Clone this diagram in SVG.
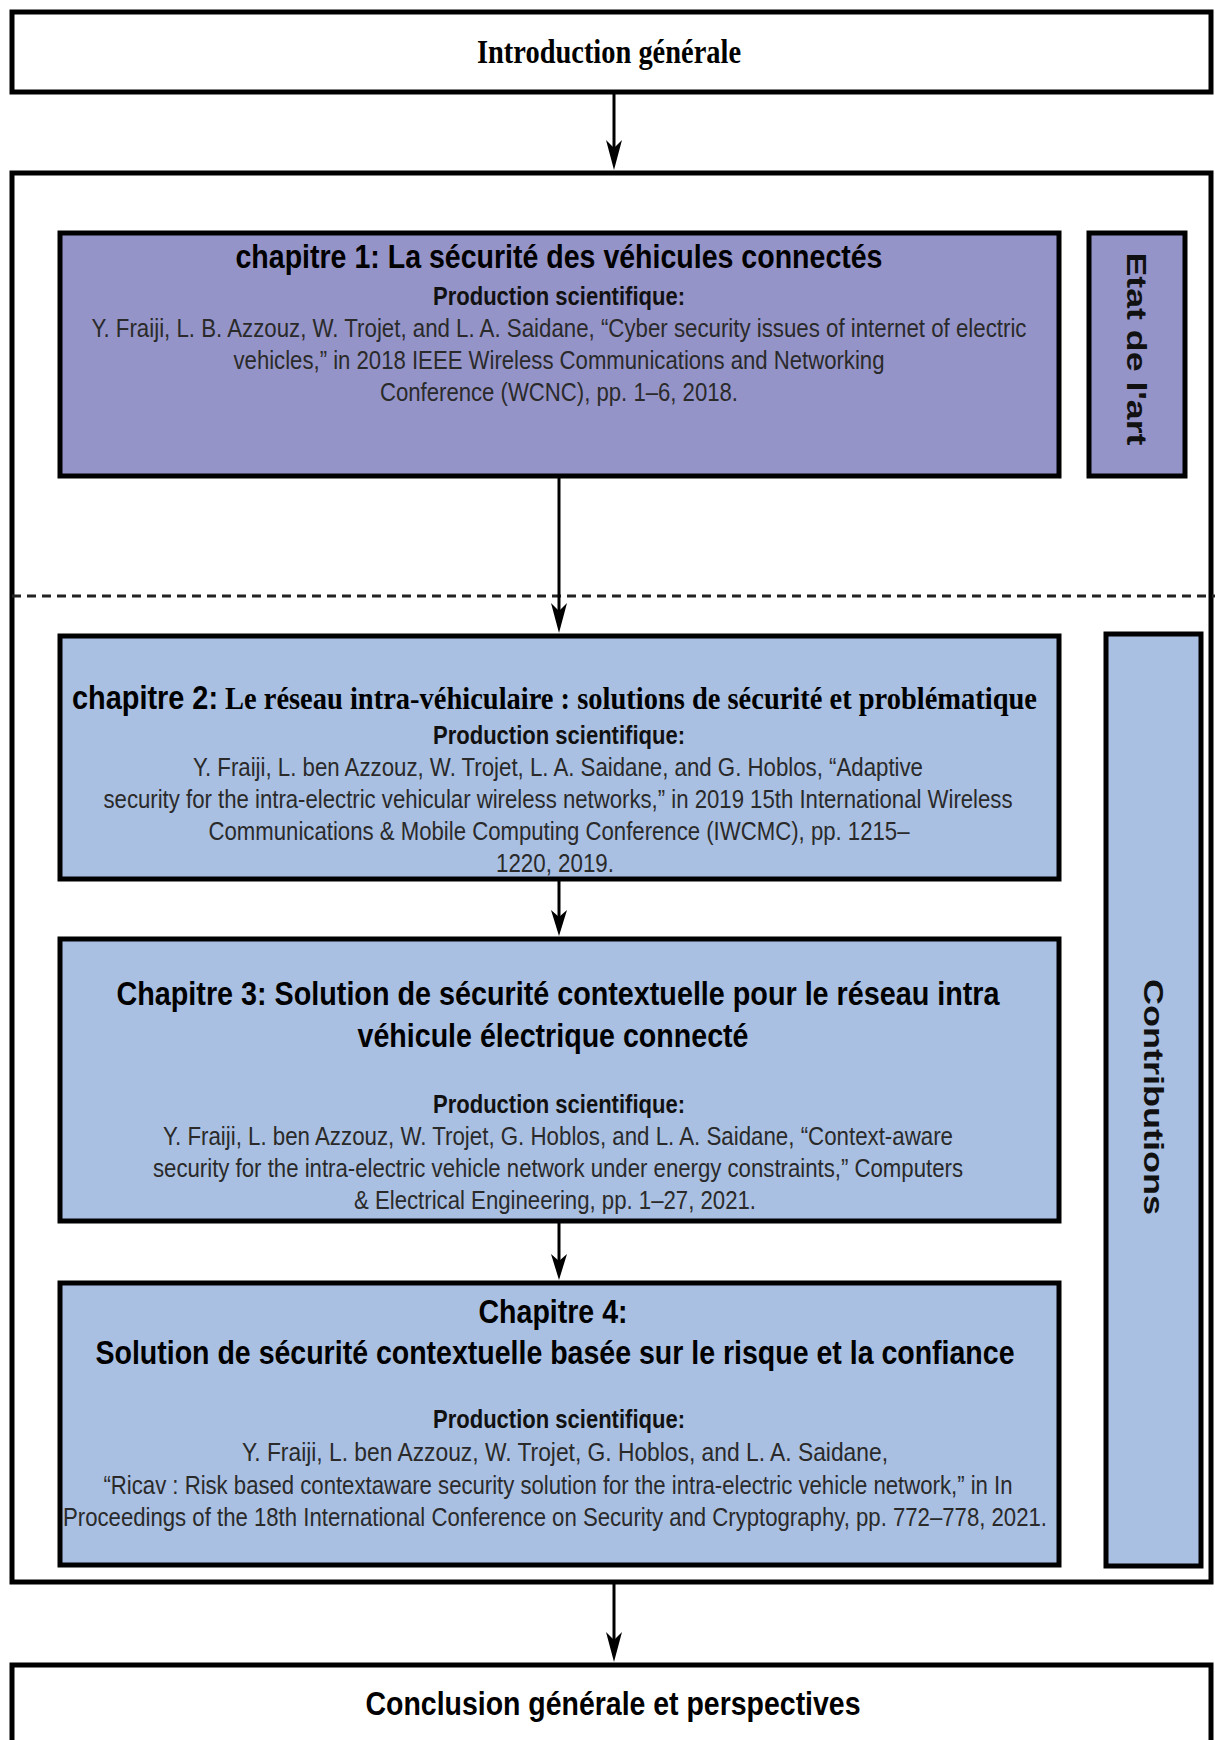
<svg xmlns="http://www.w3.org/2000/svg" width="1215" height="1740" viewBox="0 0 1215 1740">
<style>
.box{stroke:#000;stroke-width:5;}
.white{fill:#fff;}
.purple{fill:#9594C8;}
.blue{fill:#A9C0E3;}
.serif{font-family:"Liberation Serif","Times New Roman",serif;font-weight:bold;fill:#000;}
.title{font-family:"Liberation Sans",Arial,sans-serif;font-weight:bold;font-size:33px;fill:#000;}
.prod{font-family:"Liberation Sans",Arial,sans-serif;font-weight:bold;font-size:25px;fill:#111;}
.cite{font-family:"Liberation Sans",Arial,sans-serif;font-size:25px;fill:#2a2a2a;}
.side{font-family:"Liberation Sans",Arial,sans-serif;font-weight:bold;font-size:28px;fill:#111;}
.link{stroke:#000;stroke-width:3;fill:none;}
</style>
<rect width="1215" height="1740" fill="#fff"/>

<g id="container">
<rect class="box white" x="12" y="173" width="1199" height="1409"/>
</g>

<g id="intro">
<rect class="box white" x="12" y="12" width="1199" height="80"/>
<text class="serif" x="609" y="63" font-size="34" text-anchor="middle" textLength="264" lengthAdjust="spacingAndGlyphs">Introduction générale</text>
</g>

<g id="chapitre1">
<rect class="box purple" x="60" y="233" width="999" height="243"/>
<text class="title" x="559" y="268" text-anchor="middle" textLength="647" lengthAdjust="spacingAndGlyphs">chapitre 1: La sécurité des véhicules connectés</text>
<text class="prod" x="559" y="305" text-anchor="middle" textLength="252" lengthAdjust="spacingAndGlyphs">Production scientifique:</text>
<text class="cite" x="559" y="337" text-anchor="middle" textLength="935" lengthAdjust="spacingAndGlyphs">Y. Fraiji, L. B. Azzouz, W. Trojet, and L. A. Saidane, “Cyber security issues of internet of electric</text>
<text class="cite" x="559" y="369" text-anchor="middle" textLength="651" lengthAdjust="spacingAndGlyphs">vehicles,” in 2018 IEEE Wireless Communications and Networking</text>
<text class="cite" x="559" y="401" text-anchor="middle" textLength="358" lengthAdjust="spacingAndGlyphs">Conference (WCNC), pp. 1–6, 2018.</text>
</g>

<g id="etat-de-l-art">
<rect class="box purple" x="1089" y="233" width="96" height="243"/>
<text class="side" transform="translate(1136,349) rotate(90)" x="0" y="0" text-anchor="middle" dominant-baseline="central" textLength="193" lengthAdjust="spacingAndGlyphs">Etat de l'art</text>
</g>

<g id="separator">
<line x1="12" y1="596" x2="1215" y2="596" stroke="#222" stroke-width="3" stroke-dasharray="9,6"/>
</g>

<g id="chapitre2">
<rect class="box blue" x="60" y="636" width="999" height="243"/>
<text x="72" y="709"><tspan class="title" x="72" textLength="146" lengthAdjust="spacingAndGlyphs">chapitre 2:</tspan><tspan class="serif" font-size="32" x="225" textLength="812" lengthAdjust="spacingAndGlyphs">Le réseau intra-véhiculaire : solutions de sécurité et problématique</tspan></text>
<text class="prod" x="559" y="744" text-anchor="middle" textLength="252" lengthAdjust="spacingAndGlyphs">Production scientifique:</text>
<text class="cite" x="558" y="776" text-anchor="middle" textLength="730" lengthAdjust="spacingAndGlyphs">Y. Fraiji, L. ben Azzouz, W. Trojet, L. A. Saidane, and G. Hoblos, “Adaptive</text>
<text class="cite" x="558" y="808" text-anchor="middle" textLength="909" lengthAdjust="spacingAndGlyphs">security for the intra-electric vehicular wireless networks,” in 2019 15th International Wireless</text>
<text class="cite" x="559" y="840" text-anchor="middle" textLength="701" lengthAdjust="spacingAndGlyphs">Communications &amp; Mobile Computing Conference (IWCMC), pp. 1215–</text>
<text class="cite" x="555" y="872" text-anchor="middle" textLength="118" lengthAdjust="spacingAndGlyphs">1220, 2019.</text>
</g>

<g id="chapitre3">
<rect class="box blue" x="60" y="939" width="999" height="282"/>
<text class="title" x="558" y="1005" text-anchor="middle" textLength="883" lengthAdjust="spacingAndGlyphs">Chapitre 3:  Solution de sécurité contextuelle pour le réseau intra</text>
<text class="title" x="553" y="1047" text-anchor="middle" textLength="391" lengthAdjust="spacingAndGlyphs">véhicule électrique connecté</text>
<text class="prod" x="559" y="1113" text-anchor="middle" textLength="252" lengthAdjust="spacingAndGlyphs">Production scientifique:</text>
<text class="cite" x="558" y="1145" text-anchor="middle" textLength="790" lengthAdjust="spacingAndGlyphs">Y. Fraiji, L. ben Azzouz, W. Trojet, G. Hoblos, and L. A. Saidane, “Context-aware</text>
<text class="cite" x="558" y="1177" text-anchor="middle" textLength="810" lengthAdjust="spacingAndGlyphs">security for the intra-electric vehicle network under energy constraints,” Computers</text>
<text class="cite" x="555" y="1209" text-anchor="middle" textLength="402" lengthAdjust="spacingAndGlyphs">&amp; Electrical Engineering, pp. 1–27, 2021.</text>
</g>

<g id="chapitre4">
<rect class="box blue" x="60" y="1283" width="999" height="282"/>
<text class="title" x="553" y="1323" text-anchor="middle" textLength="149" lengthAdjust="spacingAndGlyphs">Chapitre 4:</text>
<text class="title" x="555" y="1364" text-anchor="middle" textLength="919" lengthAdjust="spacingAndGlyphs">Solution de sécurité contextuelle basée sur le risque et la confiance</text>
<text class="prod" x="559" y="1428" text-anchor="middle" textLength="252" lengthAdjust="spacingAndGlyphs">Production scientifique:</text>
<text class="cite" x="565" y="1461" text-anchor="middle" textLength="646" lengthAdjust="spacingAndGlyphs">Y. Fraiji, L. ben Azzouz, W. Trojet, G. Hoblos, and L. A. Saidane,</text>
<text class="cite" x="558" y="1494" text-anchor="middle" textLength="909" lengthAdjust="spacingAndGlyphs">“Ricav : Risk based contextaware security solution for the intra-electric vehicle network,” in In</text>
<text class="cite" x="555" y="1526" text-anchor="middle" textLength="984" lengthAdjust="spacingAndGlyphs">Proceedings of the 18th International Conference on Security and Cryptography, pp. 772–778, 2021.</text>
</g>

<g id="contributions">
<rect class="box blue" x="1106" y="634" width="95" height="932"/>
<text class="side" transform="translate(1153,1097) rotate(90)" x="0" y="0" text-anchor="middle" dominant-baseline="central" textLength="236" lengthAdjust="spacingAndGlyphs">Contributions</text>
</g>

<g id="conclusion">
<rect class="box white" x="12" y="1665" width="1199" height="90"/>
<text class="title" x="613" y="1715" text-anchor="middle" font-size="35" textLength="495" lengthAdjust="spacingAndGlyphs">Conclusion générale et perspectives</text>
</g>

<g id="connectors">
<line class="link" x1="614" y1="94" x2="614" y2="150"/>
<line class="link" x1="559" y1="478" x2="559" y2="612"/>
<line class="link" x1="559" y1="881" x2="559" y2="918"/>
<line class="link" x1="559" y1="1223" x2="559" y2="1262"/>
<line class="link" x1="614" y1="1584" x2="614" y2="1642"/>
<path d="M606,140 L614,170 L622,140 L614,148 Z" fill="#000"/>
<path d="M551,603 L559,633 L567,603 L559,611 Z" fill="#000"/>
<path d="M551,910 L559,936 L567,910 L559,917 Z" fill="#000"/>
<path d="M551,1254 L559,1280 L567,1254 L559,1261 Z" fill="#000"/>
<path d="M606,1632 L614,1662 L622,1632 L614,1640 Z" fill="#000"/>
</g>
</svg>
